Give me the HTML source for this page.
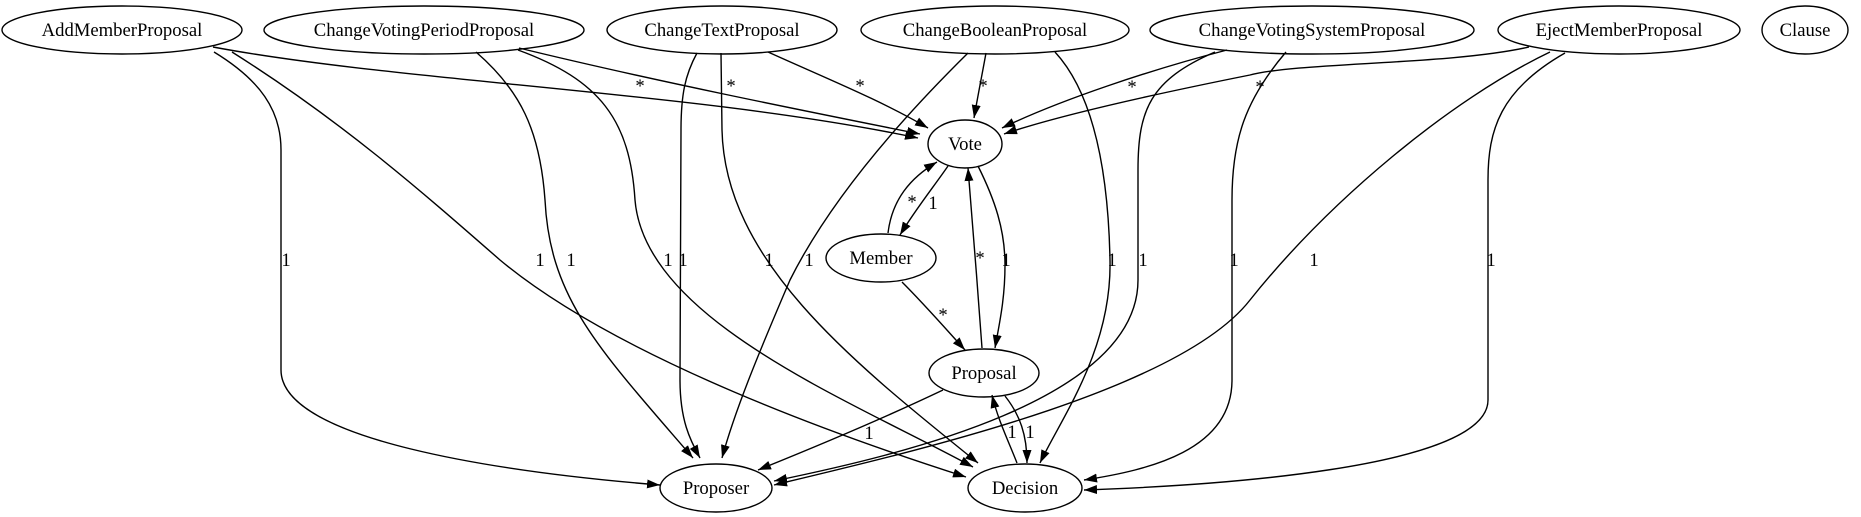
<!DOCTYPE html>
<html><head><meta charset="utf-8"><style>
html,body{margin:0;padding:0;background:#fff;}
svg{display:block;}
text{font-family:"Liberation Serif",serif;font-size:18.67px;fill:#000;}
</style></head><body>
<svg width="1861" height="517" viewBox="0 0 1861 517" xmlns="http://www.w3.org/2000/svg">
<defs>
<marker id="a" markerUnits="userSpaceOnUse" markerWidth="14" markerHeight="10" refX="13" refY="4.5" orient="auto">
<path d="M0,0 L13,4.5 L0,9 z" fill="#000"/>
</marker>
</defs>
<g fill="none" stroke="#000" stroke-width="1.4" marker-end="url(#a)">
<!-- to Vote -->
<path d="M213,47 C400,82 700,92 918,138"/>
<path d="M519,48 C650,80 800,110 920,134"/>
<path d="M768,52 C830,80 880,100 928,128"/>
<path d="M986,53 C982,75 978,95 974,118"/>
<path d="M1227,50 C1150,70 1060,100 1002,128"/>
<path d="M1529,47 C1450,65 1300,62 1250,75 C1150,95 1060,115 1004,134"/>
<!-- to Proposer -->
<path d="M214,52 C260,80 281,110 281,150 L281,370 C281,440 500,472 660,485"/>
<path d="M476,52 C520,90 540,130 545,200 C550,300 600,350 693,458"/>
<path d="M697,53 C685,75 681,95 681,130 L680,380 C680,420 690,440 700,458"/>
<path d="M968,53 C900,120 830,200 790,280 C760,350 735,410 722,458"/>
<path d="M1215,52 C1150,80 1138,110 1138,170 L1138,280 C1138,400 900,455 774,481"/>
<path d="M1550,52 C1450,100 1330,200 1250,300 C1180,390 920,450 774,485"/>
<path d="M943,390 C880,420 820,445 758,470"/>
<!-- to Decision -->
<path d="M232,52 C340,120 420,190 500,260 C620,360 850,440 966,477"/>
<path d="M518,50 C600,80 630,120 635,200 C645,320 850,400 973,467"/>
<path d="M721,53 L722,130 C725,260 850,360 978,463"/>
<path d="M1055,52 C1090,90 1108,160 1110,260 C1112,350 1060,420 1040,463"/>
<path d="M1286,52 C1245,100 1232,140 1232,200 L1232,380 C1232,450 1150,470 1084,480"/>
<path d="M1565,53 C1500,90 1488,130 1488,180 L1488,400 C1488,470 1200,486 1084,490"/>
<path d="M1005,396 C1020,415 1027,435 1027,463"/>
<!-- middle -->
<path d="M888,233 C892,200 910,178 937,162"/>
<path d="M948,166 C935,185 915,210 900,235"/>
<path d="M982,348 C978,290 972,220 968,168"/>
<path d="M978,166 C995,200 1005,230 1005,265 C1005,300 999,325 995,348"/>
<path d="M902,282 C925,305 945,328 965,350"/>
<path d="M1017,463 C1008,440 998,420 992,395"/>
</g>
<g fill="none" stroke="#000" stroke-width="1.4">
<ellipse cx="122" cy="30" rx="120" ry="24"/>
<ellipse cx="424" cy="30" rx="160" ry="24"/>
<ellipse cx="722" cy="30" rx="115" ry="24"/>
<ellipse cx="995" cy="30" rx="134" ry="24"/>
<ellipse cx="1312" cy="30" rx="162" ry="24"/>
<ellipse cx="1619" cy="30" rx="121" ry="24"/>
<ellipse cx="1805" cy="30" rx="43" ry="24"/>
<ellipse cx="965" cy="144" rx="37" ry="24"/>
<ellipse cx="881" cy="258" rx="55" ry="24"/>
<ellipse cx="984" cy="373" rx="55" ry="24"/>
<ellipse cx="716" cy="488" rx="56" ry="24"/>
<ellipse cx="1025" cy="488" rx="57" ry="24"/>
</g>
<g text-anchor="middle">
<text x="122" y="36">AddMemberProposal</text>
<text x="424" y="36">ChangeVotingPeriodProposal</text>
<text x="722" y="36">ChangeTextProposal</text>
<text x="995" y="36">ChangeBooleanProposal</text>
<text x="1312" y="36">ChangeVotingSystemProposal</text>
<text x="1619" y="36">EjectMemberProposal</text>
<text x="1805" y="36">Clause</text>
<text x="965" y="150">Vote</text>
<text x="881" y="264">Member</text>
<text x="984" y="379">Proposal</text>
<text x="716" y="494">Proposer</text>
<text x="1025" y="494">Decision</text>
<!-- labels -->
<text x="640" y="92">*</text>
<text x="731" y="92">*</text>
<text x="860" y="92">*</text>
<text x="983" y="92">*</text>
<text x="1132" y="93">*</text>
<text x="1260" y="93">*</text>
<text x="286" y="266">1</text>
<text x="540" y="266">1</text>
<text x="571" y="266">1</text>
<text x="668" y="266">1</text>
<text x="683" y="266">1</text>
<text x="769" y="266">1</text>
<text x="809" y="266">1</text>
<text x="1112" y="266">1</text>
<text x="1143" y="266">1</text>
<text x="1234" y="266">1</text>
<text x="1314" y="266">1</text>
<text x="1491" y="266">1</text>
<text x="912" y="208">*</text>
<text x="933" y="209">1</text>
<text x="980" y="264">*</text>
<text x="1006" y="266">1</text>
<text x="943" y="321">*</text>
<text x="869" y="439">1</text>
<text x="1012" y="438">1</text>
<text x="1030" y="438">1</text>
</g>
</svg>
</body></html>
